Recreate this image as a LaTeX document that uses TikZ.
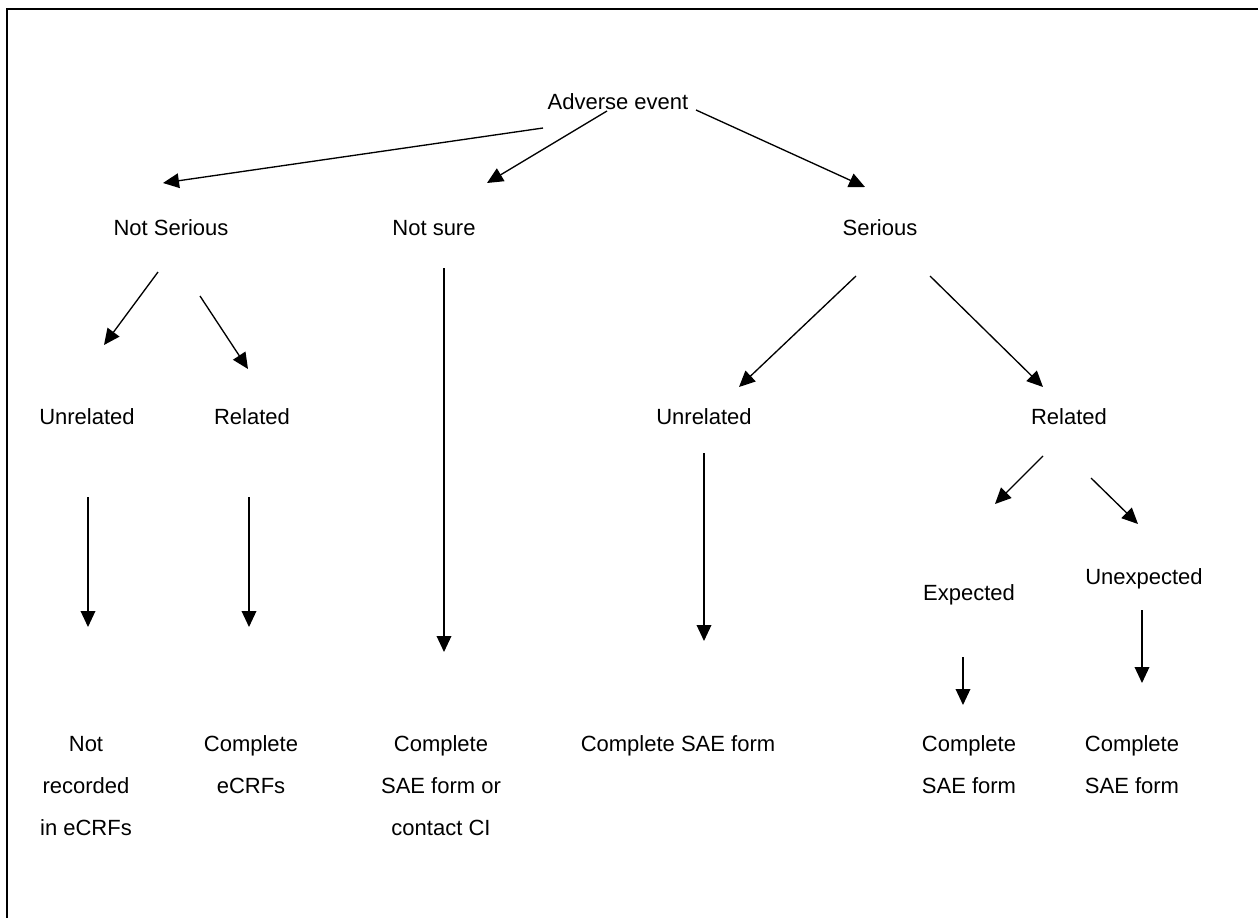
\documentclass[tikz,border=0pt]{standalone}
\usepackage{fontspec}
\setmainfont{Liberation Sans}
\usetikzlibrary{arrows.meta}
\begin{document}
\begin{tikzpicture}[x=0.75pt,y=-0.75pt,
  lbl/.style={font=\fontsize{16.5pt}{31.5pt}\selectfont, align=center, inner sep=0pt, anchor=base},
  blk/.style={lbl, anchor=north},
  arr/.style={line width=1pt, -{Triangle[length=12pt,width=11pt]}}]
\useasboundingbox (0,0) rectangle (1258,918);
\draw[line width=1.6pt] (7,918) -- (7,9) -- (1258,9);
% labels
\node[lbl] (ae) at (618,109) {Adverse event};
\node[lbl] (ns) at (171,235) {Not Serious};
\node[lbl] (nsure) at (434,235) {Not sure};
\node[lbl] (ser) at (880,235) {Serious};
\node[lbl] (u1) at (87,424) {Unrelated};
\node[lbl] (r1) at (252,424) {Related};
\node[lbl] (u2) at (704,424) {Unrelated};
\node[lbl] (r2) at (1069,424) {Related};
\node[lbl] (exp) at (969,600) {Expected};
\node[lbl] (unexp) at (1144,584) {Unexpected};
\node[blk] (o1) at (86,735) {Not\vphantom{l}\\recorded\\in eCRFs};
\node[blk] (o2) at (251,735) {Complete\\eCRFs};
\node[blk] (o3) at (441,735) {Complete\\SAE form or\\contact CI};
\node[blk] (o4) at (678,735) {Complete SAE form};
\node[blk] (o5) at (969,735) {Complete\\SAE form};
\node[blk] (o6) at (1132,735) {Complete\\SAE form};
% arrow end points
\coordinate (a1s) at (543,128); \coordinate (a1e) at (163,183);
\coordinate (a2s) at (607,111); \coordinate (a2e) at (487,183);
\coordinate (a3s) at (696,110); \coordinate (a3e) at (865,187);
\coordinate (b1s) at (158,272); \coordinate (b1e) at (104,345);
\coordinate (b2s) at (200,296); \coordinate (b2e) at (248,369);
\coordinate (c1s) at (444,268); \coordinate (c1e) at (444,652);
\coordinate (d1s) at (856,276); \coordinate (d1e) at (739,387);
\coordinate (d2s) at (930,276); \coordinate (d2e) at (1043,387);
\coordinate (e1s) at (88,497);  \coordinate (e1e) at (88,627);
\coordinate (e2s) at (249,497); \coordinate (e2e) at (249,627);
\coordinate (e3s) at (704,453); \coordinate (e3e) at (704,641);
\coordinate (f1s) at (1043,456); \coordinate (f1e) at (995,504);
\coordinate (f2s) at (1091,478); \coordinate (f2e) at (1138,524);
\coordinate (g1s) at (963,657); \coordinate (g1e) at (963,705);
\coordinate (g2s) at (1142,610); \coordinate (g2e) at (1142,683);
\foreach \p in {a1,a2,a3,b1,b2,c1,d1,d2,e1,e2,e3,f1,f2,g1,g2}
  \draw[arr] (\p s) -- (\p e);
\end{tikzpicture}
\end{document}
